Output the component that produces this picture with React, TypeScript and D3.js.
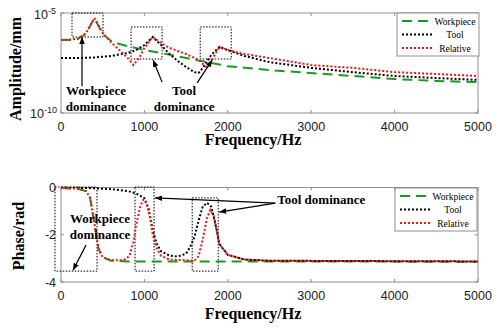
import React from 'react';
import * as d3 from 'd3';

// amplitude curves: [frequency Hz, amplitude mm]
const ampWorkpiece: [number, number][] = [
  [0, 4.5e-7], [100, 4.5e-7], [200, 5.0e-7], [300, 8.9e-7], [400, 5.6e-6], [500, 8.9e-7],
  [600, 4.0e-7], [700, 2.8e-7], [800, 2.2e-7], [1000, 1.4e-7], [1200, 1.0e-7], [1500, 5.6e-8],
  [2000, 2.2e-8], [2500, 1.4e-8], [3000, 1.0e-8], [3500, 7.1e-9], [4000, 5.0e-9], [4500, 4.0e-9],
  [5000, 3.5e-9],
];
const ampTool: [number, number][] = [
  [0, 5.6e-8], [200, 5.6e-8], [400, 6.0e-8], [600, 7.1e-8], [800, 1.0e-7], [900, 1.4e-7],
  [1000, 2.5e-7], [1100, 6.3e-7], [1200, 2.5e-7], [1300, 8.9e-8], [1400, 4.0e-8], [1500, 2.0e-8],
  [1600, 1.1e-8], [1650, 1.0e-8], [1700, 1.8e-8], [1800, 7.9e-8], [1900, 2.0e-7], [2000, 1.4e-7],
  [2200, 7.1e-8], [2500, 3.5e-8], [3000, 1.8e-8], [3500, 1.1e-8], [4000, 7.1e-9], [4500, 5.6e-9],
  [5000, 4.5e-9],
];
const ampRelative: [number, number][] = [
  [0, 4.5e-7], [100, 4.7e-7], [200, 5.2e-7], [300, 1.0e-6], [400, 5.6e-6], [500, 1.0e-6],
  [600, 3.5e-7], [700, 1.4e-7], [800, 5.6e-8], [870, 2.5e-8], [950, 7.1e-8], [1000, 1.8e-7],
  [1100, 6.3e-7], [1200, 3.2e-7], [1300, 1.8e-7], [1500, 8.9e-8], [1650, 4.5e-8], [1750, 1.8e-8],
  [1900, 2.0e-7], [2000, 1.4e-7], [2200, 8.9e-8], [2500, 5.6e-8], [3000, 2.5e-8], [3500, 1.8e-8],
  [4000, 1.1e-8], [4500, 8.9e-9], [5000, 7.1e-9],
];

// phase curves: [frequency Hz, phase rad]
const phWorkpiece: [number, number][] = [
  [0, -0.02], [200, -0.05], [300, -0.15], [350, -0.45], [400, -1.5], [450, -2.6], [500, -2.95],
  [600, -3.1], [800, -3.13], [5000, -3.14],
];
const phTool: [number, number][] = [
  [0, 0], [300, -0.02], [600, -0.07], [800, -0.15], [900, -0.25], [1000, -0.45], [1050, -0.9],
  [1100, -1.8], [1150, -2.4], [1200, -2.7], [1300, -2.88], [1400, -2.92], [1500, -2.8],
  [1550, -2.5], [1600, -2.1], [1650, -1.4], [1700, -0.8], [1750, -0.65], [1800, -0.8],
  [1850, -1.5], [1900, -2.4], [2000, -2.85], [2200, -3.05], [2500, -3.1], [5000, -3.13],
];
const phRelative: [number, number][] = [
  [0, -0.02], [200, -0.05], [300, -0.15], [350, -0.45], [400, -1.5], [450, -2.6], [500, -2.95],
  [600, -3.08], [750, -3.08], [820, -2.9], [870, -2.3], [900, -1.6], [950, -0.8], [990, -0.5],
  [1030, -0.7], [1070, -1.3], [1100, -2.0], [1150, -2.6], [1200, -2.9], [1300, -3.05],
  [1600, -3.1], [1650, -2.9], [1700, -2.2], [1750, -1.3], [1790, -0.95], [1830, -1.2],
  [1870, -1.9], [1900, -2.4], [2000, -2.85], [2200, -3.05], [2500, -3.1], [5000, -3.13],
];

const xTicks = [0, 1000, 2000, 3000, 4000, 5000];
const phaseTicks = [0, -2, -4];
const legendNames = ['Workpiece', 'Tool', 'Relative'];

// annotation boxes in data units: [f0, f1, v0, v1]
const ampBoxes: [number, number, number, number][] = [
  [132, 504, 1e-5, 6.3e-7], [840, 1212, 2.0e-6, 5.0e-8], [1669, 2041, 2.0e-6, 5.0e-8],
];
const phaseBoxes: [number, number, number, number][] = [
  [-72, 432, 0.02, -3.54], [888, 1116, 0.02, -3.54], [1573, 1885, -0.44, -3.54],
];
// arrows: [fromF, fromV, toF, toV]
const ampArrows: [number, number, number, number][] = [
  [252, 2.2e-9, 252, 6.3e-7], [1212, 3.5e-9, 1104, 4.5e-8], [1633, 3.2e-9, 1813, 4.5e-8],
];
const phaseArrows: [number, number, number, number][] = [
  [300, -2.44, 144, -3.5], [2569, -0.66, 1128, -0.44], [2569, -0.66, 1897, -1.04],
];

const W = 500;
const H = 329;
const serif = '"Liberation Serif", "Times New Roman", serif';
const sans = '"Liberation Sans", Arial, sans-serif';
const axisColor = '#8f8f8f';
const green = '#1a9a1a';
const red = '#ff1010';

const styles = [
  { color: green, dash: '10 6' },
  { color: '#000', dash: '2 2' },
  { color: red, dash: '2 2' },
];

const x = d3.scaleLinear().domain([0, 5000]).range([61, 478]);
const yAmp = d3.scaleLog().domain([1e-10, 1e-5]).range([113, 13]);
const yPh = d3.scaleLinear().domain([-4, 0]).range([282, 187.5]);

function Legend({ x0, y0 }: { x0: number; y0: number }) {
  return (
    <g transform={`translate(${x0},${y0})`}>
      <rect width={82} height={43} fill="#fff" stroke={axisColor} strokeWidth={1} />
      {legendNames.map((n, i) => (
        <g key={n} transform={`translate(0,${8 + i * 13.5})`}>
          <line x1={5} x2={36} stroke={styles[i].color} strokeWidth={2} strokeDasharray={styles[i].dash} />
          <text x={58} y={3.5} textAnchor="middle" fontFamily={serif} fontSize={9.5}>{n}</text>
        </g>
      ))}
    </g>
  );
}

function Frame({ y, ticksY, top, bottom }: { y: any; ticksY: number[]; top: number; bottom: number }) {
  return (
    <g>
      <rect x={61} y={top} width={417} height={bottom - top} fill="none" stroke={axisColor} strokeWidth={1} />
      {xTicks.map(t => (
        <g key={t}>
          <line x1={x(t)} x2={x(t)} y1={bottom} y2={bottom - 3} stroke={axisColor} />
          <line x1={x(t)} x2={x(t)} y1={top} y2={top + 3} stroke={axisColor} />
          <text x={x(t)} y={bottom + 18} textAnchor="middle" fontFamily={sans} fontSize={12.5} fill="#222">{t}</text>
        </g>
      ))}
      {ticksY.map(t => (
        <g key={t}>
          <line x1={61} x2={64} y1={y(t)} y2={y(t)} stroke={axisColor} />
          <line x1={478} x2={475} y1={y(t)} y2={y(t)} stroke={axisColor} />
        </g>
      ))}
    </g>
  );
}

function Arrow({ a, xs, ys }: { a: [number, number, number, number]; xs: any; ys: any }) {
  return (
    <line x1={xs(a[0])} y1={ys(a[1])} x2={xs(a[2])} y2={ys(a[3])} stroke="#000" strokeWidth={1.2} markerEnd="url(#ah)" />
  );
}

export default function App() {
  const lineA = d3.line<[number, number]>().x(d => x(d[0])).y(d => yAmp(d[1]));
  const lineP = d3.line<[number, number]>().x(d => x(d[0])).y(d => yPh(d[1]));
  const ampSeries = [ampWorkpiece, ampTool, ampRelative];
  const phSeries = [phWorkpiece, phTool, phRelative];
  const label = { fontFamily: serif, fontWeight: 'bold' as const, fontSize: 13 };

  return (
    <svg width={W} height={H} style={{ position: 'absolute', left: 0, top: 0, background: '#fff' }}>
      <defs>
        <marker id="ah" viewBox="0 0 10 10" refX={10} refY={5} markerWidth={7} markerHeight={7} orient="auto" markerUnits="userSpaceOnUse">
          <path d="M0,1 L10,5 L0,9 Z" fill="#000" />
        </marker>
      </defs>

      {/* amplitude plot */}
      <Frame y={yAmp} ticksY={[1e-5, 1e-10]} top={13} bottom={113} />
      <text x={56} y={19} textAnchor="end" fontFamily={sans} fontSize={12.5} fill="#222">
        10<tspan dy={-5} fontSize={9}>-5</tspan>
      </text>
      <text x={57} y={118} textAnchor="end" fontFamily={sans} fontSize={12.5} fill="#222">
        10<tspan dy={-5} fontSize={9}>-10</tspan>
      </text>
      {ampBoxes.map((b, i) => (
        <rect key={i} x={x(b[0])} y={yAmp(b[2])} width={x(b[1]) - x(b[0])} height={yAmp(b[3]) - yAmp(b[2])}
          fill="none" stroke="#000" strokeWidth={1} strokeDasharray="1.5 1.5" />
      ))}
      {ampSeries.map((s, i) => (
        <path key={i} d={lineA(s) || ''} fill="none" stroke={styles[i].color} strokeWidth={2} strokeDasharray={styles[i].dash} />
      ))}
      {ampArrows.map((a, i) => <Arrow key={i} a={a} xs={x} ys={yAmp} />)}
      <text x={x(420)} y={95} textAnchor="middle" {...label}>Workpiece</text>
      <text x={x(420)} y={111} textAnchor="middle" {...label}>dominance</text>
      <text x={x(1476)} y={95} textAnchor="middle" {...label}>Tool</text>
      <text x={x(1476)} y={111} textAnchor="middle" {...label}>dominance</text>
      <Legend x0={397} y0={13} />
      <text transform="translate(21,69) rotate(-90)" textAnchor="middle" fontFamily={serif} fontWeight="bold" fontSize={16}>Amplitude/mm</text>
      <text x={253} y={145} textAnchor="middle" fontFamily={serif} fontWeight="bold" fontSize={16}>Frequency/Hz</text>

      {/* phase plot */}
      <Frame y={yPh} ticksY={phaseTicks} top={187.5} bottom={282} />
      {phaseTicks.map(t => (
        <text key={t} x={56} y={yPh(t) + 4.5} textAnchor="end" fontFamily={sans} fontSize={12.5} fill="#222">{t}</text>
      ))}
      {phaseBoxes.map((b, i) => (
        <rect key={i} x={x(b[0])} y={yPh(b[2])} width={x(b[1]) - x(b[0])} height={yPh(b[3]) - yPh(b[2])}
          fill="none" stroke="#000" strokeWidth={1} strokeDasharray="1.5 1.5" />
      ))}
      {phSeries.map((s, i) => (
        <path key={i} d={lineP(s) || ''} fill="none" stroke={styles[i].color} strokeWidth={2} strokeDasharray={styles[i].dash} />
      ))}
      {phaseArrows.map((a, i) => <Arrow key={i} a={a} xs={x} ys={yPh} />)}
      <text x={x(468)} y={223} textAnchor="middle" {...label}>Workpiece</text>
      <text x={x(468)} y={239} textAnchor="middle" {...label}>dominance</text>
      <text x={x(2593)} y={204} {...label}>Tool dominance</text>
      <Legend x0={395} y0={188} />
      <text transform="translate(24,236) rotate(-90)" textAnchor="middle" fontFamily={serif} fontWeight="bold" fontSize={16}>Phase/rad</text>
      <text x={253} y={319} textAnchor="middle" fontFamily={serif} fontWeight="bold" fontSize={16}>Frequency/Hz</text>
    </svg>
  );
}
